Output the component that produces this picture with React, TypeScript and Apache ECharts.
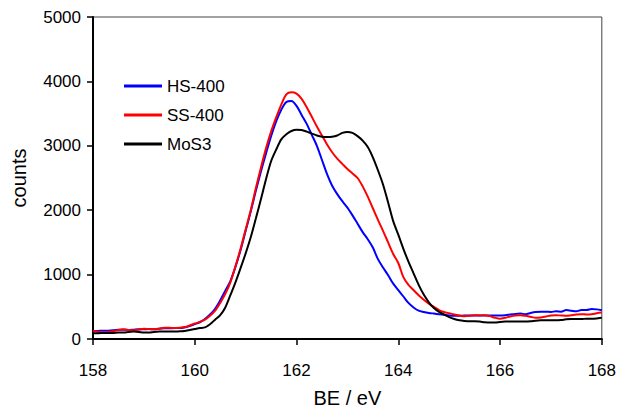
import React, { useEffect, useRef } from "react";
import * as echarts from "echarts";

const BE: number[] = [];
for (let i = 0; i <= 100; i++) BE.push(Math.round((158 + i * 0.1) * 10) / 10);

const HS400 = [
  120, 125, 130, 130, 135, 145, 145, 140, 145, 150,
  150, 155, 150, 160, 165, 165, 170, 170, 180, 200,
  230, 260, 310, 380, 470, 600, 750, 900, 1120, 1380,
  1680, 1980, 2300, 2600, 2880, 3150, 3380, 3560, 3680, 3695,
  3620, 3480, 3340, 3170, 3000, 2780, 2560, 2380, 2250, 2140,
  2040, 1920, 1790, 1660, 1550, 1420, 1240, 1110, 990, 860,
  760, 660, 560, 490, 440, 420, 405, 395, 385, 375,
  365, 360, 360, 365, 365, 365, 365, 365, 365, 365,
  365, 370, 380, 390, 395, 385, 405, 420, 425, 425,
  420, 430, 425, 450, 440, 430, 450, 450, 465, 460,
  445,
];

const SS400 = [
  130, 110, 105, 110, 120, 140, 150, 140, 135, 145,
  160, 155, 150, 160, 175, 175, 170, 175, 185, 210,
  240, 265, 300, 360, 440, 560, 700, 880, 1130, 1400,
  1700, 2000, 2340, 2660, 2960, 3220, 3440, 3640, 3800, 3830,
  3810, 3730, 3600, 3450, 3300, 3160, 3020, 2900, 2800, 2720,
  2640, 2570, 2500, 2370, 2210, 2030, 1850, 1680, 1500, 1320,
  1180, 960, 840, 760, 680, 610, 550, 500, 450, 420,
  400, 380, 365, 355, 360, 370, 365, 370, 355, 330,
  315, 330, 350, 365, 370, 360, 345, 330, 335, 350,
  365, 370, 365, 360, 370, 380, 385, 380, 385, 400,
  410,
];

const MoS3 = [
  90, 90, 95, 95, 95, 100, 100, 110, 115, 110,
  100, 100, 110, 115, 115, 115, 115, 120, 125, 140,
  155, 170, 180, 230, 300, 370, 490, 680, 880, 1100,
  1330, 1580, 1870, 2170, 2480, 2760, 2940, 3100, 3180, 3230,
  3250, 3245, 3220, 3190, 3160, 3140, 3135, 3140, 3160, 3200,
  3215, 3200, 3150, 3080, 2980, 2820, 2620, 2400, 2120, 1830,
  1620, 1400, 1200, 1020, 840, 690, 570, 480, 420, 380,
  340, 310, 290, 280, 275, 275, 270, 260, 255, 255,
  265, 270, 270, 270, 270, 270, 275, 285, 290, 290,
  290, 290, 295, 305, 310, 310, 310, 315, 315, 320,
  330,
];

const SERIES_NAMES = ["HS-400", "SS-400", "MoS3"];
const SERIES_COLORS = ["#0000ff", "#ff0000", "#000000"];
const SERIES_VALUES = [HS400, SS400, MoS3];

const FONT = "'Liberation Sans', Arial, Helvetica, sans-serif";

export default function App() {
  const ref = useRef<HTMLDivElement>(null);
  useEffect(() => {
    if (!ref.current) return;
    const chart = echarts.init(ref.current, undefined, { renderer: "svg" });
    chart.setOption({
      animation: false,
      backgroundColor: "#ffffff",
      textStyle: { fontFamily: FONT },
      grid: {
        left: 93,
        right: 16,
        top: 17,
        bottom: 70,
        show: true,
        borderColor: "#444",
        borderWidth: 1,
      },
      legend: {
        orient: "vertical",
        left: 124,
        top: 76,
        padding: 0,
        itemWidth: 38,
        itemHeight: 3,
        itemGap: 9,
        icon: "rect",
        data: SERIES_NAMES,
        textStyle: { fontFamily: FONT, fontSize: 17, color: "#000", lineHeight: 20 },
      },
      xAxis: {
        type: "value",
        min: 158,
        max: 168,
        interval: 2,
        name: "BE / eV",
        nameLocation: "middle",
        nameGap: 49,
        nameTextStyle: { fontFamily: FONT, fontSize: 20, color: "#000" },
        axisLine: { show: true, onZero: false, lineStyle: { color: "#000", width: 2 } },
        axisTick: { show: true, length: 6, lineStyle: { color: "#000", width: 1.5 } },
        axisLabel: { fontFamily: FONT, fontSize: 17, color: "#000", margin: 23 },
        splitLine: { show: false },
      },
      yAxis: {
        type: "value",
        min: 0,
        max: 5000,
        interval: 1000,
        name: "counts",
        nameLocation: "middle",
        nameGap: 64,
        nameTextStyle: { fontFamily: FONT, fontSize: 20, color: "#000" },
        axisLine: { show: true, onZero: false, lineStyle: { color: "#000", width: 2 } },
        axisTick: { show: true, length: 6, lineStyle: { color: "#000", width: 1.5 } },
        axisLabel: {
          fontFamily: FONT,
          fontSize: 17,
          color: "#000",
          margin: 12,
          formatter: (v: number) => String(v),
        },
        splitLine: { show: false },
      },
      series: SERIES_NAMES.map((name, i) => ({
        name,
        type: "line",
        data: BE.map((x, j) => [x, SERIES_VALUES[i][j]]),
        showSymbol: false,
        symbol: "none",
        smooth: 0.3,
        color: SERIES_COLORS[i],
        lineStyle: { color: SERIES_COLORS[i], width: 2 },
        itemStyle: { color: SERIES_COLORS[i] },
      })),
    });
    return () => chart.dispose();
  }, []);
  return <div ref={ref} style={{ width: 619, height: 413, position: "absolute", left: 0, top: 0 }} />;
}
